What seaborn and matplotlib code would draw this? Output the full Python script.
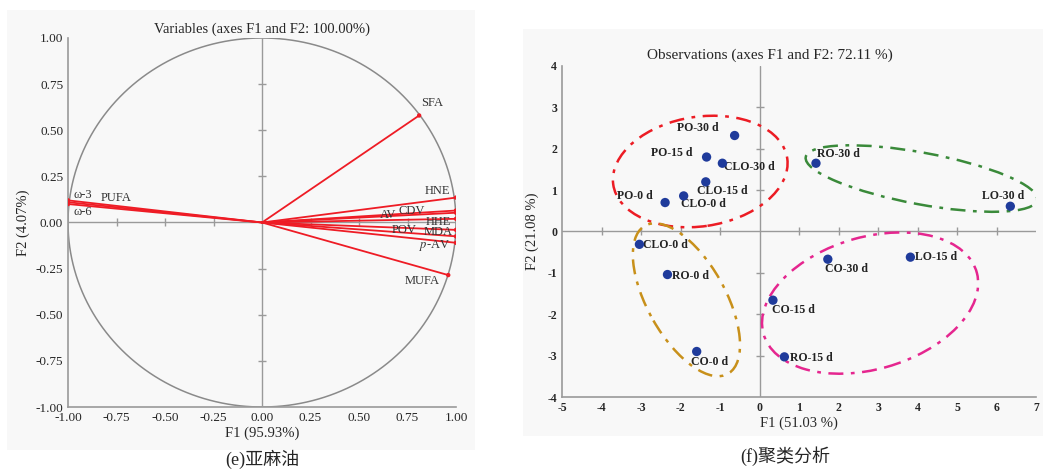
import numpy as np
import pandas as pd
import seaborn as sns
from matplotlib import pyplot as plt
from matplotlib.patches import Ellipse, Rectangle

# loadings (e) 亚麻油
var_names = ['SFA', 'HNE', 'CDV', 'AV', 'HHE', 'MDA', 'POV', 'p-AV', 'MUFA', 'ω-3', 'ω-6', 'PUFA']
var_f1 = [0.81, 1.00, 1.00, 1.00, 1.00, 1.00, 1.00, 1.00, 0.96, -1.00, -1.00, -1.00]
var_f2 = [0.58, 0.135, 0.065, 0.053, 0.02, -0.04, -0.075, -0.11, -0.285, 0.12, 0.10, 0.11]

# observations (f) 聚类分析
obs_names = ['PO-30 d', 'PO-15 d', 'CLO-30 d', 'CLO-15 d', 'CLO-0 d', 'PO-0 d', 'RO-30 d', 'LO-30 d',
             'CLO-0 d', 'RO-0 d', 'CO-0 d', 'CO-30 d', 'LO-15 d', 'CO-15 d', 'RO-15 d']
obs_f1 = [-0.63, -1.34, -0.94, -1.36, -1.92, -2.39, 1.43, 6.35,
          -3.04, -2.33, -1.59, 1.73, 3.82, 0.34, 0.63]
obs_f2 = [2.32, 1.80, 1.65, 1.20, 0.86, 0.70, 1.65, 0.61,
          -0.31, -1.04, -2.90, -0.67, -0.62, -1.66, -3.03]

# label offsets in pixels (dx, dy)
var_off = [(13, 12), (-19, 7), (-44, 0), (-68, -2), (-18, -3), (-18, -2), (-52, 6), (-21, -3),
           (-26, -6), (15, 5), (15, -8), (48, 4)]
obs_off = [(-37, 8), (-35, 4), (27, -4), (17, -9), (20, -8), (-30, 7), (22, 9), (-7, 10),
           (26, -1), (23, -1), (13, -11), (19, -10), (26, 0), (21, -10), (27, -1)]

sns.set_style('white')
plt.rcParams['font.family'] = ['Liberation Serif', 'Noto Sans CJK SC']
plt.rcParams['mathtext.fontset'] = 'stix'

fig = plt.figure(figsize=(10.43, 4.69), dpi=100)
W, H = 1043, 469
bg = '#f8f8f8'
fig.patches.append(Rectangle((7 / W, 1 - 450 / H), 468 / W, 440 / H, transform=fig.transFigure,
                             facecolor=bg, edgecolor='none', zorder=-5))
fig.patches.append(Rectangle((523 / W, 1 - 436 / H), 520 / W, 407 / H, transform=fig.transFigure,
                             facecolor=bg, edgecolor='none', zorder=-5))

grey = '#9a9a9a'


def style_axes(ax):
    ax.set_facecolor('none')
    for s in ['top', 'right']:
        ax.spines[s].set_visible(False)
    for s in ['left', 'bottom']:
        ax.spines[s].set_color(grey)
        ax.spines[s].set_linewidth(1.2)
    ax.tick_params(direction='in', length=4, color=grey, width=1)


# ---- left: correlation circle
ax1 = fig.add_axes([68 / W, 1 - 407 / H, 388 / W, 369 / H])
style_axes(ax1)
t = np.linspace(0, 2 * np.pi, 400)
ax1.plot(np.cos(t), np.sin(t), color='#8a8a8a', lw=1.1, zorder=1)
ax1.axhline(0, color=grey, lw=1, zorder=1)
ax1.axvline(0, color=grey, lw=1, zorder=1)
tk = np.array([-0.75, -0.5, -0.25, 0.25, 0.5, 0.75])
ax1.plot(tk, np.zeros_like(tk), '|', color=grey, ms=6, zorder=1)
ax1.plot(np.zeros_like(tk), tk, '_', color=grey, ms=6, zorder=1)

seg = pd.DataFrame({
    'var': np.repeat(var_names, 2),
    'F1': np.ravel([[0, x] for x in var_f1]),
    'F2': np.ravel([[0, y] for y in var_f2]),
})
seg['uid'] = np.repeat(np.arange(len(var_names)), 2)
sns.lineplot(data=seg, x='F1', y='F2', units='uid', estimator=None, sort=False,
             color='#ee1c25', lw=1.3, ax=ax1, zorder=3)
sns.scatterplot(x=var_f1, y=var_f2, color='#ee1c25', s=10, edgecolor='none', ax=ax1, zorder=4)
for name, x, y, (dx, dy) in zip(var_names, var_f1, var_f2, var_off):
    label = '$p$-AV' if name == 'p-AV' else name
    ax1.annotate(label, (x, y), xytext=(dx, dy), textcoords='offset pixels',
                 ha='center', va='center', fontsize=9, color='#333333',
                 family=['Liberation Serif', 'DejaVu Serif'])
ax1.set_xlim(-1, 1)
ax1.set_ylim(-1, 1)
ticks = np.arange(-1, 1.01, 0.25)
ax1.set_xticks(ticks)
ax1.set_yticks(ticks)
ax1.set_xticklabels(['%.2f' % v for v in ticks], fontsize=9.5)
ax1.set_yticklabels(['%.2f' % v for v in ticks], fontsize=9.5)
ax1.set_xlabel('F1 (95.93%)', fontsize=10.5, labelpad=2)
ax1.set_ylabel('F2 (4.07%)', fontsize=10.5, labelpad=4)
ax1.set_title('Variables (axes F1 and F2: 100.00%)', fontsize=10.5, pad=4)

# ---- right: observations
ax2 = fig.add_axes([562 / W, 1 - 397 / H, 474 / W, 331 / H])
style_axes(ax2)
ax2.axhline(0, color=grey, lw=1, zorder=1)
ax2.axvline(0, color=grey, lw=1, zorder=1)
xt = np.array([-4, -3, -2, -1, 1, 2, 3, 4, 5, 6])
yt = np.array([-3, -2, -1, 1, 2, 3])
ax2.plot(xt, np.zeros_like(xt), '|', color=grey, ms=6, zorder=1)
ax2.plot(np.zeros_like(yt), yt, '_', color=grey, ms=6, zorder=1)

groups = [((-1.5, 1.45), 4.45, 2.65, 8, '#ec1c24'),
          ((4.1, 1.28), 5.95, 1.25, -10, '#3a8a3a'),
          ((-1.85, -1.65), 4.15, 1.95, -59, '#c8901a'),
          ((2.8, -1.73), 5.6, 3.2, 15, '#e5268f')]
for c, w, h, a, col in groups:
    ax2.add_patch(Ellipse(c, w, h, angle=a, fill=False, ls=(0, (6, 3, 1.5, 3)),
                          lw=1.8, edgecolor=col, zorder=2))

obs = pd.DataFrame({'name': obs_names, 'F1': obs_f1, 'F2': obs_f2})
sns.scatterplot(data=obs, x='F1', y='F2', color='#1f3b9b', s=45, edgecolor='none', ax=ax2, zorder=4)
for name, x, y, (dx, dy) in zip(obs_names, obs_f1, obs_f2, obs_off):
    ax2.annotate(name, (x, y), xytext=(dx, dy), textcoords='offset pixels',
                 ha='center', va='center', fontsize=8.5, fontweight='bold', color='#222222')
ax2.set_xlim(-5, 7)
ax2.set_ylim(-4, 4)
ax2.set_xticks(range(-5, 8))
ax2.set_yticks(range(-4, 5))
ax2.set_xticklabels([str(v) for v in range(-5, 8)], fontsize=8.5, fontweight='bold')
ax2.set_yticklabels([str(v) for v in range(-4, 5)], fontsize=8.5, fontweight='bold')
ax2.set_xlabel('F1 (51.03 %)', fontsize=10.5, labelpad=2)
ax2.set_ylabel('F2 (21.08 %)', fontsize=10.5, labelpad=6)
fig.text(770 / W, 1 - 55 / H, 'Observations (axes F1 and F2: 72.11 %)', ha='center', va='center',
         fontsize=11)

fig.text(262 / W, 1 - 459 / H, '(e)亚麻油', ha='center', va='center', fontsize=13,
         family=['Liberation Serif', 'Noto Sans CJK SC'])
fig.text(785 / W, 1 - 456 / H, '(f)聚类分析', ha='center', va='center', fontsize=13,
         family=['Liberation Serif', 'Noto Sans CJK SC'])

fig.savefig('out.png', dpi=100, facecolor='white')
